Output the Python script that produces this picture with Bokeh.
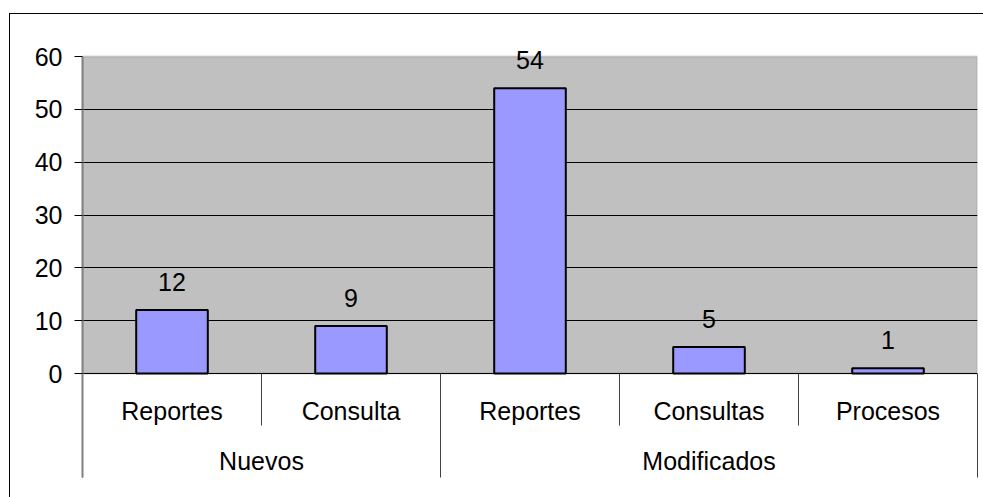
from bokeh.plotting import figure
from bokeh.models import (Range1d, FixedTicker, LinearAxis, BoxAnnotation, ColumnDataSource,
                          InlineStyleSheet)
from bokeh.core.properties import value
from bokeh.embed import file_html
from bokeh.resources import INLINE

# ---- data ----
groups = ["Nuevos", "Modificados"]
group_sizes = [2, 3]
subcategories = ["Reportes", "Consulta", "Reportes", "Consultas", "Procesos"]
values = [12, 9, 54, 5, 1]
y_ticks = [0, 10, 20, 30, 40, 50, 60]

FONT = "Liberation Sans"
FS = "25px"

n = len(subcategories)
xc = [i + 0.5 for i in range(n)]

# group boundaries / centres
bounds = [0]
for s in group_sizes:
    bounds.append(bounds[-1] + s)
gcent = [(bounds[i] + bounds[i + 1]) / 2 for i in range(len(groups))]
inner = [i for i in range(1, n) if i not in bounds]

ymax = y_ticks[-1]
ppu = 317 / ymax            # pixels per unit (plot area 317px for 0..60)
ymin = -104 / ppu           # category band below the plot area
ytop = ymax + 20 / ppu      # room above the plot area for value labels

p = figure(width=983, height=497, output_backend="svg", toolbar_location=None,
           x_range=Range1d(0, n), y_range=Range1d(ymin, ytop),
           min_border_left=82, min_border_right=6, min_border_top=36, min_border_bottom=20,
           x_axis_location=None, y_axis_location=None)
p.outline_line_color = None
p.background_fill_color = "white"
p.border_fill_color = "white"
p.xgrid.visible = False
p.ygrid.ticker = FixedTicker(ticks=y_ticks[:-1])
p.ygrid.grid_line_color = "black"
p.ygrid.grid_line_width = 1

# outer chart border (only its left and top edges are inside the window)
p.stylesheets = [InlineStyleSheet(css="""
:host { position: relative; }
:host::after { content: ""; position: absolute; left: 9px; top: 13px; width: 2000px; height: 2000px;
  border-left: 1px solid black; border-top: 1px solid black; pointer-events: none; z-index: 10; }
""")]

# grey plot area
p.add_layout(BoxAnnotation(bottom=0, top=ymax, fill_color="#C0C0C0", fill_alpha=1.0,
                           line_color="#808080", line_width=2, level="image"))

# y axis
yax = LinearAxis(ticker=FixedTicker(ticks=y_ticks), bounds=(ymin, ymax))
yax.axis_line_color = "#808080"
yax.axis_line_width = 2
yax.major_tick_out = 8
yax.major_tick_in = 0
yax.minor_tick_line_color = None
yax.major_tick_line_color = "black"
yax.major_label_standoff = 12
yax.major_label_text_font = FONT
yax.major_label_text_font_size = FS
yax.major_label_text_color = "black"
p.add_layout(yax, "left")

# group dividers as axis ticks rising from the bottom
xax = LinearAxis(ticker=FixedTicker(ticks=bounds, minor_ticks=[]))
xax.axis_line_color = None
xax.major_tick_in = 104
xax.major_tick_out = 0
xax.minor_tick_line_color = None
xax.major_tick_line_color = "#404040"
xax.major_label_text_font_size = "0px"
xax.major_label_text_color = None
p.add_layout(xax, "below")

# dividers between sub-categories inside a group
p.segment(x0=inner, y0=[0] * len(inner), x1=inner, y1=[-52 / ppu] * len(inner),
          line_color="#404040", line_width=1)

# bars
src = ColumnDataSource(dict(x=xc, top=values, lab=[str(v) for v in values], sub=subcategories))
p.vbar(x="x", top="top", bottom=0, width=0.4, source=src,
       fill_color="#9999FF", line_color="black", line_width=2)

# value labels
p.text(x="x", y="top", text="lab", source=src, text_align="center",
       text_baseline="alphabetic", y_offset=-28, text_font=value(FONT),
       text_font_size=FS, text_color="black")

# sub-category labels
p.text(x="x", y=0, text="sub", source=src, text_align="center",
       text_baseline="alphabetic", y_offset=37, text_font=value(FONT),
       text_font_size=FS, text_color="black")

# group labels
gsrc = ColumnDataSource(dict(x=gcent, g=groups))
p.text(x="x", y=0, text="g", source=gsrc, text_align="center",
       text_baseline="alphabetic", y_offset=87, text_font=value(FONT),
       text_font_size=FS, text_color="black")

open("out.html", "w").write(file_html(p, INLINE))
